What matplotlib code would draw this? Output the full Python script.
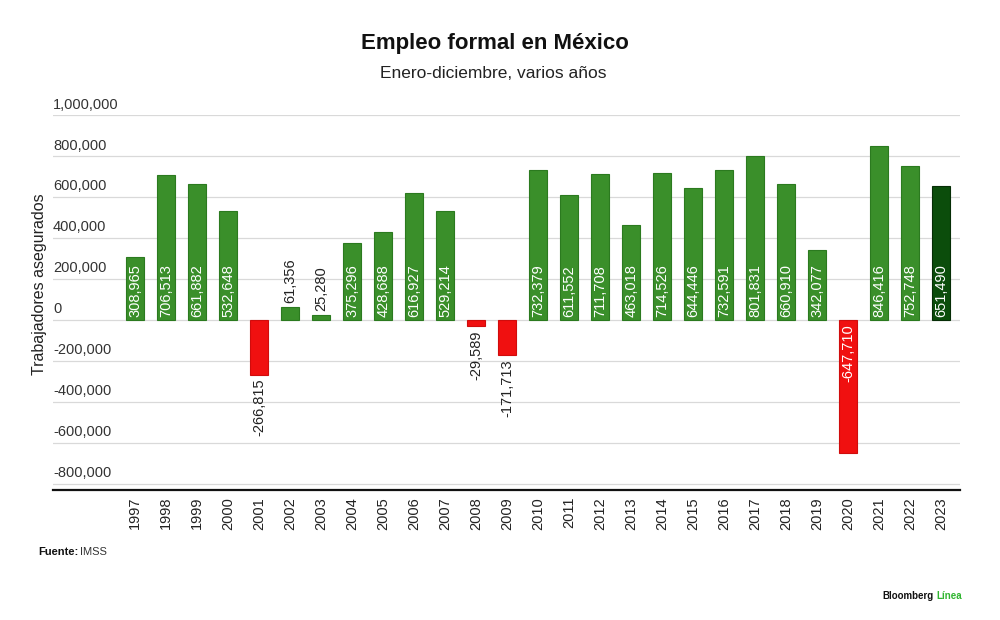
import matplotlib.pyplot as plt

plt.rcParams['font.family'] = ['Liberation Sans', 'DejaVu Sans']

# datos
years = [str(y) for y in range(1997, 2024)]
empleo = [308965, 706513, 661882, 532648, -266815, 61356, 25280, 375296, 428688,
          616927, 529214, -29589, -171713, 732379, 611552, 711708, 463018, 714526,
          644446, 732591, 801831, 660910, 342077, -647710, 846416, 752748, 651490]
y_ticks = [-800000, -600000, -400000, -200000, 0, 200000, 400000, 600000, 800000, 1000000]

verde = '#3a8f2a'
verde_borde = '#2b7a1f'
rojo = '#f01010'
verde_oscuro = '#0b4d0b'

fig = plt.figure(figsize=(10, 6.2), dpi=100)
ax = fig.add_axes([0.053, 1 - 490 / 620, 0.907, (490 - 115) / 620])

x = list(range(len(years)))
colores = []
bordes = []
for i, v in enumerate(empleo):
    if i == len(empleo) - 1:
        colores.append(verde_oscuro)
        bordes.append('#062d06')
    elif v < 0:
        colores.append(rojo)
        bordes.append('#d00c0c')
    else:
        colores.append(verde)
        bordes.append(verde_borde)

ax.bar(x, empleo, width=0.58, color=colores, edgecolor=bordes, linewidth=0.8, zorder=3)

# etiquetas de valores
for i, v in enumerate(empleo):
    txt = f'{v:,}'
    if abs(v) > 300000:
        if v > 0:
            ax.annotate(txt, (i, 0), xytext=(0, 2), textcoords='offset points',
                        rotation=90, ha='center', va='bottom', color='white',
                        fontsize=10.5, zorder=4)
        else:
            ax.annotate(txt, (i, 0), xytext=(0, -3), textcoords='offset points',
                        rotation=90, ha='center', va='top', color='white',
                        fontsize=10.5, zorder=4)
    else:
        if v > 0:
            ax.annotate(txt, (i, v), xytext=(0, 3), textcoords='offset points',
                        rotation=90, ha='center', va='bottom', color='#222222',
                        fontsize=10.5, zorder=4)
        else:
            ax.annotate(txt, (i, v), xytext=(0, -3), textcoords='offset points',
                        rotation=90, ha='center', va='top', color='#222222',
                        fontsize=10.5, zorder=4)

ax.set_xlim(-2.65, 26.6)
ax.set_ylim(-830000, 1000000)
ax.set_yticks(y_ticks)
ax.yaxis.grid(True, color='#d9d9d9', linewidth=0.9, zorder=0)
ax.tick_params(axis='y', length=0, labelleft=False)

# etiquetas del eje y, encima de la línea
for t in y_ticks:
    ax.annotate(f'{t:,}', (0, t), xycoords=('axes fraction', 'data'),
                xytext=(0, 2.5), textcoords='offset points',
                ha='left', va='bottom', fontsize=10.5, color='#333333')

ax.set_xticks(x)
ax.set_xticklabels(years, rotation=90, fontsize=10.5, color='#222222')
ax.tick_params(axis='x', length=0, pad=5)

for s in ['top', 'right', 'left']:
    ax.spines[s].set_visible(False)
ax.spines['bottom'].set_color('#111111')
ax.spines['bottom'].set_linewidth(1.6)

fig.text(0.040, 1 - 284 / 620, 'Trabajadores asegurados', rotation=90,
         ha='center', va='center', fontsize=11.5, color='#222222')

fig.text(0.495, 1 - 43 / 620, 'Empleo formal en México', ha='center', va='center',
         fontsize=16, fontweight='bold', color='#111111')
fig.text(0.493, 1 - 73 / 620, 'Enero-diciembre, varios años', ha='center', va='center',
         fontsize=12.5, color='#222222')

t1 = fig.text(0.038, 1 - 552 / 620, 'Fuente:', ha='left', va='center',
              fontsize=8, fontweight='bold', color='#111111')
fig.canvas.draw()
bb = t1.get_window_extent()
fig.text(bb.x1 / fig.bbox.width + 0.002, 1 - 552 / 620, 'IMSS', ha='left', va='center',
         fontsize=8, color='#333333')

t2 = fig.text(0.962, 1 - 596 / 620, 'Línea', ha='right', va='center',
              fontsize=7, fontweight='bold', color='#2fb52f')
fig.canvas.draw()
bb2 = t2.get_window_extent()
fig.text(bb2.x0 / fig.bbox.width - 0.003, 1 - 596 / 620, 'Bloomberg', ha='right', va='center',
         fontsize=7, fontweight='bold', color='#111111')

fig.savefig('out.png', dpi=100)
